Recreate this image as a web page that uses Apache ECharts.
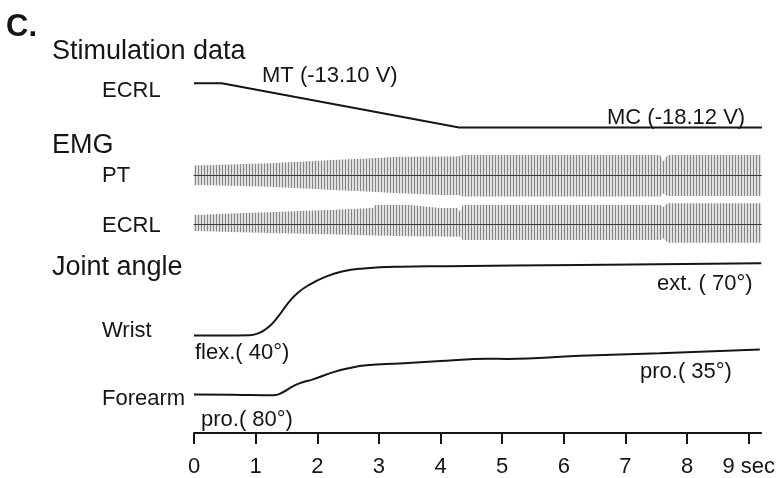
<!DOCTYPE html>
<html>
<head>
<meta charset="utf-8">
<script src="https://cdn.jsdelivr.net/npm/echarts@6/dist/echarts.min.js"></script>
<style>
html,body{margin:0;padding:0;background:#fff;}
#c{width:778px;height:478px;}
</style>
</head>
<body>
<div id="c"></div>
<script>
// ---- time axis ----
const timeTicks = [0, 1, 2, 3, 4, 5, 6, 7, 8, 9];
const tickLabels = ['0', '1', '2', '3', '4', '5', '6', '7', '8', '9 sec'];

// ---- stimulation (ECRL), volts ----
const stimTimes = [0, 0.45, 4.30, 9.21];
const stimVolts = [-13.10, -13.10, -18.12, -18.12];

// ---- EMG envelopes (a.u.) ----
const ptTimes  = [0, 0.6, 1.2, 1.8, 2.25, 2.8, 3.34, 4.0, 4.28, 4.31, 4.36, 5.5, 6.5, 7.56, 7.61, 7.68, 8.4, 9.2];
const ptUpper  = [10, 11, 12.2, 14, 15.5, 17, 18.8, 19, 19, 17.5, 20.5, 20.5, 20.5, 20.5, 14, 20.5, 20.5, 20.5];
const ptLower  = [-9.5, -10.3, -11.2, -13, -14.5, -16, -17.8, -19.5, -19.5, -20.5, -21, -21, -21, -21, -18, -20.5, -20.5, -20.5];

const ecrlTimes = [0, 0.6, 1.4, 2.2, 2.9, 2.93, 3.5, 4.0, 4.27, 4.31, 4.36, 5.5, 6.5, 7.56, 7.61, 7.68, 8.4, 9.2];
const ecrlUpper = [9, 10.5, 12.3, 14, 16, 19, 19, 16, 16, 12.5, 19, 19, 19, 19, 17, 20.7, 20.7, 20.7];
const ecrlLower = [-7, -8, -9.3, -10.3, -11.5, -11.7, -12.2, -12.5, -12.7, -12.7, -16, -16, -16, -16, -14, -18.7, -18.7, -18.7];

// ---- joint angles (deg) ----
const wristTimes  = [0, 0.5, 0.9, 1.05, 1.2, 1.36, 1.52, 1.68, 1.88, 2.12, 2.40, 2.75, 3.34, 4.10, 6.26, 9.2];
const wristAngles = [-40, -40, -39.5, -36.5, -28, -12, 8, 24, 37, 48, 56.5, 61, 63.7, 64.5, 66.3, 69];

const forearmTimes  = [0, 0.63, 1.29, 1.45, 1.56, 1.72, 1.93, 2.25, 2.53, 2.80, 3.34, 4.0, 4.48, 4.75, 5.08, 6.26, 7.56, 9.18];
const forearmAngles = [80, 80.2, 80.8, 77.5, 73.3, 68.6, 64.9, 57.9, 53.5, 50.8, 48.9, 46.5, 44.7, 44.2, 44.4, 41.3, 38.8, 35];

// ---- text labels ----
const labels = [
  ['C.', 6, 27, 'bold 31px'],
  ['Stimulation data', 52, 52, '27px'],
  ['ECRL', 102, 91, '22px'],
  ['MT (-13.10 V)', 262, 75.5, '22px'],
  ['MC (-18.12 V)', 607, 117.5, '22px'],
  ['EMG', 52, 146, '27px'],
  ['PT', 102, 176, '22px'],
  ['ECRL', 102, 226, '22px'],
  ['Joint angle', 52, 268, '27px'],
  ['Wrist', 102, 330.5, '22px'],
  ['flex.( 40°)', 195, 352.5, '22px'],
  ['ext. ( 70°)', 657, 283.5, '22px'],
  ['Forearm', 102, 398.5, '22px'],
  ['pro.( 80°)', 201, 419.5, '22px'],
  ['pro.( 35°)', 640, 372, '22px']
];

const zip = (a, b) => a.map((v, i) => [v, b[i]]);
const FONT = "'Liberation Sans', Arial, Helvetica, sans-serif";
const INK = '#151515';

function stripeCanvas() {
  const c = document.createElement('canvas');
  c.width = 3; c.height = 4;
  const g = c.getContext('2d');
  g.fillStyle = '#e0e0e0'; g.fillRect(0, 0, 3, 4);
  g.fillStyle = '#858585'; g.fillRect(0, 0, 1, 4);
  return c;
}
const stripes = stripeCanvas();

const L = 194, W = 567.3;
const grids = [
  { left: L, width: W, top: 83.3, height: 44.2 },   // stim
  { left: L, width: W, top: 153.5, height: 44 },    // PT
  { left: L, width: W, top: 202, height: 44 },      // ECRL EMG
  { left: L, width: W, top: 262.5, height: 73 },    // wrist
  { left: L, width: W, top: 349.5, height: 53.5 }   // forearm
];

const hiddenX = (i, showLine) => ({
  type: 'value', gridIndex: i, min: 0, max: 9.2, z: 5,
  axisLine: { show: !!showLine, onZero: true, lineStyle: { color: '#3a3a3a', width: 1.2 } },
  axisTick: { show: false }, axisLabel: { show: false }, splitLine: { show: false }
});
const hiddenY = (i, min, max, inverse) => ({
  type: 'value', gridIndex: i, min: min, max: max, inverse: !!inverse, show: false,
  splitLine: { show: false }
});

const xAxes = [hiddenX(0), hiddenX(1, true), hiddenX(2, true), hiddenX(3),
  {
    type: 'value', gridIndex: 4, min: 0, max: 9.2, position: 'bottom', offset: 38.5,
    axisLine: { show: true, onZero: false, lineStyle: { color: INK, width: 2 } },
    axisTick: { show: true, length: 11, customValues: timeTicks, lineStyle: { color: INK, width: 2 } },
    axisLabel: {
      show: true, customValues: timeTicks, margin: 23, color: INK, fontSize: 22, fontFamily: FONT,
      formatter: v => tickLabels[timeTicks.indexOf(v)] || ''
    },
    splitLine: { show: false }
  }
];
const yAxes = [
  hiddenY(0, -18.12, -13.10),
  hiddenY(1, -22, 22),
  hiddenY(2, -22, 22),
  hiddenY(3, -40, 70),
  hiddenY(4, 35, 80, true)
];

const bandSeries = (i, t, vals) => ({
  type: 'line', xAxisIndex: i, yAxisIndex: i, data: zip(t, vals),
  showSymbol: false, symbol: 'none', silent: true, z: 1,
  lineStyle: { width: 0, opacity: 0 },
  areaStyle: { color: { image: stripes, repeat: 'repeat' }, opacity: 1 }
});
const traceSeries = (i, t, vals, smooth) => ({
  type: 'line', xAxisIndex: i, yAxisIndex: i, data: zip(t, vals),
  showSymbol: false, symbol: 'none', silent: true, clip: false, z: 3,
  smooth: smooth ? 0.5 : false,
  lineStyle: { color: INK, width: 2 }
});

const option = {
  backgroundColor: '#ffffff',
  animation: false,
  grid: grids,
  xAxis: xAxes,
  yAxis: yAxes,
  series: [
    traceSeries(0, stimTimes, stimVolts, false),
    bandSeries(1, ptTimes, ptUpper),
    bandSeries(1, ptTimes, ptLower),
    bandSeries(2, ecrlTimes, ecrlUpper),
    bandSeries(2, ecrlTimes, ecrlLower),
    traceSeries(3, wristTimes, wristAngles, true),
    traceSeries(4, forearmTimes, forearmAngles, true)
  ],
  graphic: labels.map(([text, x, y, f]) => ({
    type: 'text', x: x, y: y, silent: true,
    style: {
      text: text, font: f + ' ' + FONT, fill: INK,
      align: 'left', verticalAlign: 'middle', textAlign: 'left', textVerticalAlign: 'middle'
    }
  }))
};

const chart = echarts.init(document.getElementById('c'), null, { renderer: 'canvas' });
chart.setOption(option);
</script>
</body>
</html>
